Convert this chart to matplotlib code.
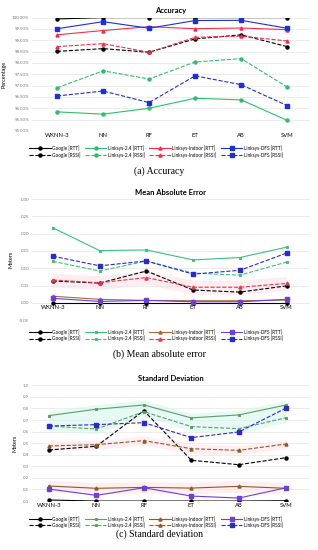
import matplotlib.pyplot as plt
import numpy as np

plt.rcParams['font.family'] = ['Lato', 'DejaVu Sans']

models = ["WKNN-3", "NN", "RF", "ET", "AB", "SVM"]

# accuracy (%)
acc_google_rtt = [99.94, 100.0, 100.0, 100.0, 100.0, 100.0]
acc_google_rssi = [98.51, 98.63, 98.47, 99.06, 99.24, 98.72]
acc_l24_rtt = [95.84, 95.74, 96.00, 96.44, 96.37, 95.47]
acc_l24_rssi = [96.90, 97.65, 97.29, 98.04, 98.19, 96.94]
acc_indoor_rtt = [99.24, 99.43, 99.60, 99.51, 99.54, 99.47]
acc_indoor_rssi = [98.72, 98.85, 98.47, 99.13, 99.18, 98.97]
acc_dfs_rtt = [99.51, 99.82, 99.53, 99.87, 99.88, 99.53]
acc_dfs_rssi = [96.54, 96.76, 96.25, 97.43, 97.04, 96.12]

# mean absolute error (m)
mae_google_rtt = [0.0, 0.0, 0.0, 0.0, 0.0, 0.0]
mae_google_rssi = [0.063, 0.057, 0.092, 0.037, 0.031, 0.049]
mae_l24_rtt = [0.217, 0.151, 0.153, 0.124, 0.131, 0.161]
mae_l24_rssi = [0.120, 0.092, 0.121, 0.086, 0.080, 0.118]
mae_indoor_rtt = [0.019, 0.010, 0.007, 0.006, 0.006, 0.008]
mae_indoor_rssi = [0.066, 0.058, 0.073, 0.045, 0.045, 0.056]
mae_dfs_rtt = [0.013, 0.004, 0.007, 0.003, 0.003, 0.010]
mae_dfs_rssi = [0.135, 0.107, 0.121, 0.083, 0.094, 0.144]

# standard deviation (m)
sd_google_rtt = [0.009, 0.0, 0.0, 0.0, 0.0, 0.003]
sd_google_rssi = [0.441, 0.473, 0.781, 0.352, 0.314, 0.375]
sd_l24_rtt = [0.738, 0.793, 0.830, 0.718, 0.744, 0.830]
sd_l24_rssi = [0.648, 0.622, 0.772, 0.643, 0.625, 0.720]
sd_indoor_rtt = [0.130, 0.110, 0.118, 0.112, 0.127, 0.110]
sd_indoor_rssi = [0.476, 0.487, 0.522, 0.452, 0.438, 0.493]
sd_dfs_rtt = [0.104, 0.049, 0.115, 0.043, 0.026, 0.115]
sd_dfs_rssi = [0.648, 0.660, 0.677, 0.548, 0.597, 0.804]

x = np.arange(len(models))

fig = plt.figure(figsize=(3.18, 5.5), dpi=100)


def style_axes(ax, title, ylabel, xlim_left):
    ax.set_title(title, fontsize=5.5, fontweight='bold', pad=3)
    ax.set_ylabel(ylabel, fontsize=4)
    ax.set_xticks(x)
    ax.set_xticklabels(models, fontsize=4.2)
    ax.set_xlim(xlim_left, 5.5)
    ax.tick_params(axis='y', labelsize=3.2, length=0, pad=2, colors='#777777')
    ax.tick_params(axis='x', length=0, pad=1.5)
    ax.grid(axis='y', color='#e6e6e6', linewidth=0.5)
    ax.set_axisbelow(True)
    for s in ax.spines.values():
        s.set_visible(False)


def series(ax, y, color, marker, ls, label, ms=2.2, lw=0.8):
    return ax.plot(x, y, color=color, marker=marker, linestyle=ls, markersize=ms,
                   linewidth=lw, label=label)[0]


def add_legend(handles, ybox):
    fig.legend(handles=handles, loc='center', bbox_to_anchor=(0.49, ybox), ncol=4,
               fontsize=3.4, frameon=False, handlelength=4.6, columnspacing=0.9,
               handletextpad=0.3, labelspacing=0.15, borderaxespad=0)


# ---- (a) accuracy
ax1 = fig.add_axes([0.10, 0.762, 0.875, 0.206])
blk, grn, red, blu = 'black', '#2dbe6c', '#f0304a', '#1f2fd6'
h = [
    series(ax1, acc_google_rtt, blk, 'o', '-', 'Google [RTT]'),
    series(ax1, acc_google_rssi, blk, 'o', '--', 'Google [RSSI]'),
    series(ax1, acc_l24_rtt, grn, 'o', '-', 'Linksys-2.4 [RTT]'),
    series(ax1, acc_l24_rssi, grn, 'o', '--', 'Linksys-2.4 [RSSI]'),
    series(ax1, acc_indoor_rtt, red, '^', '-', 'Linksys-Indoor [RTT]'),
    series(ax1, acc_indoor_rssi, red, '^', '--', 'Linksys-Indoor [RSSI]'),
    series(ax1, acc_dfs_rtt, blu, 's', '-', 'Linksys-DFS [RTT]'),
    series(ax1, acc_dfs_rssi, blu, 's', '--', 'Linksys-DFS [RSSI]'),
]
ax1.set_ylim(95, 100)
ax1.set_yticks(np.arange(95, 100.01, 0.5))
ax1.set_yticklabels(["%.2f%%" % v for v in np.arange(95, 100.01, 0.5)])
style_axes(ax1, "Accuracy", "Percentage", -0.55)
add_legend(h, 1 - 151.5 / 550)
fig.text(0.5, 1 - 171 / 550, "(a) Accuracy", ha='center', va='center',
         fontsize=7, family='Liberation Serif')

# ---- (b) mean absolute error
ax2 = fig.add_axes([0.10, 0.418, 0.875, 0.220])
grn2, brn, red2, blu2, pur = '#3cc07a', '#a86a3a', '#e8394a', '#2a2ad0', '#6b3fd8'
ax2.spines['bottom'].set_position(('data', 0))
ax2.fill_between(x, np.array(mae_indoor_rssi) - 0.02, np.array(mae_indoor_rssi) + 0.02,
                 color='#ffd8e0', alpha=0.45, linewidth=0)
h = [
    series(ax2, mae_google_rtt, blk, 'o', '-', 'Google [RTT]'),
    series(ax2, mae_google_rssi, blk, 'o', '--', 'Google [RSSI]'),
    series(ax2, mae_l24_rtt, grn2, 'x', '-', 'Linksys-2.4 [RTT]', ms=1.8),
    series(ax2, mae_l24_rssi, grn2, 'x', '--', 'Linksys-2.4 [RSSI]', ms=1.8),
    series(ax2, mae_indoor_rtt, brn, '^', '-', 'Linksys-Indoor [RTT]'),
    series(ax2, mae_indoor_rssi, red2, '^', '--', 'Linksys-Indoor [RSSI]'),
    series(ax2, mae_dfs_rtt, pur, 's', '-', 'Linksys-DFS [RTT]'),
    series(ax2, mae_dfs_rssi, blu2, 's', '--', 'Linksys-DFS [RSSI]', ms=2.6),
]
ax2.set_ylim(-0.05, 0.30)
ax2.set_yticks(np.arange(-0.05, 0.301, 0.05))
ax2.set_yticklabels(["%.2f" % v for v in np.arange(-0.05, 0.301, 0.05)])
style_axes(ax2, "Mean Absolute Error", "Meters", -0.45)
add_legend(h, 1 - 335.3 / 550)
fig.text(0.5, 1 - 354.5 / 550, "(b) Mean absolute error", ha='center', va='center',
         fontsize=7, family='Liberation Serif')

# ---- (c) standard deviation
ax3 = fig.add_axes([0.10, 0.089, 0.875, 0.2105])
grn3, brn3 = '#5e9e66', '#8f5a26'
lo = np.minimum(sd_l24_rtt, sd_l24_rssi) - 0.04
hi = np.maximum(sd_l24_rtt, sd_l24_rssi) + 0.04
ax3.fill_between(x, lo, hi, color='#d6f5ee', alpha=0.6, linewidth=0)
ax3.fill_between(x, np.array(sd_indoor_rssi) - 0.04, np.array(sd_indoor_rssi) + 0.04,
                 color='#ffe0e6', alpha=0.5, linewidth=0)
ax3.fill_between(x, np.array(sd_indoor_rtt) - 0.05, np.array(sd_indoor_rtt) + 0.05,
                 color='#ffe0e6', alpha=0.5, linewidth=0)
h = [
    series(ax3, sd_google_rtt, blk, 'o', '-', 'Google [RTT]'),
    series(ax3, sd_google_rssi, blk, 'o', '--', 'Google [RSSI]'),
    series(ax3, sd_l24_rtt, grn3, 'x', '-', 'Linksys-2.4 [RTT]', ms=1.8),
    series(ax3, sd_l24_rssi, grn3, 'x', '--', 'Linksys-2.4 [RSSI]', ms=1.8),
    series(ax3, sd_indoor_rtt, brn3, '^', '-', 'Linksys-Indoor [RTT]'),
    series(ax3, sd_indoor_rssi, brn3, '^', '--', 'Linksys-Indoor [RSSI]'),
    series(ax3, sd_dfs_rtt, pur, 's', '-', 'Linksys-DFS [RTT]'),
    series(ax3, sd_dfs_rssi, blu2, 's', '--', 'Linksys-DFS [RSSI]', ms=2.6),
]
ax3.set_ylim(0, 1.0)
ax3.set_yticks(np.arange(0, 1.01, 0.1))
ax3.set_yticklabels(["%.1f" % v for v in np.arange(0, 1.01, 0.1)])
style_axes(ax3, "Standard Deviation", "Meters", -0.36)
add_legend(h, 1 - 522 / 550)
fig.text(0.5, 1 - 534 / 550, "(c) Standard deviation", ha='center', va='center',
         fontsize=7, family='Liberation Serif')

fig.savefig("out.png", dpi=100)
